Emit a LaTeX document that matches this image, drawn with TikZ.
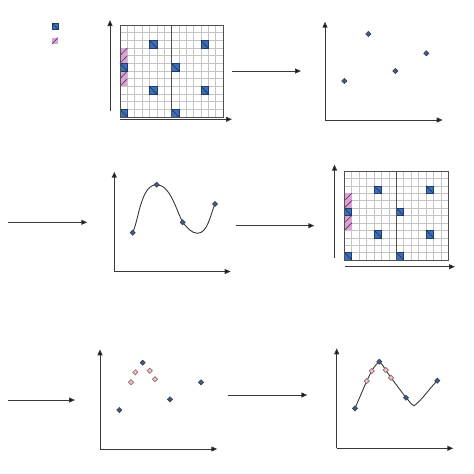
\documentclass[tikz,border=0pt]{standalone}
\usetikzlibrary{arrows.meta,shapes.geometric}
\pgfdeclarelayer{bg}
\pgfsetlayers{bg,main}
\definecolor{axisc}{HTML}{383838}
\definecolor{gridc}{HTML}{C4C4C4}
\definecolor{borderc}{HTML}{505050}
\definecolor{cellblue}{HTML}{3D6FB6}
\definecolor{celledge}{HTML}{1E3C6E}
\definecolor{cellpink}{HTML}{D9A3D3}
\definecolor{hatchc}{HTML}{5A2A5A}
\definecolor{ptblue}{HTML}{44597F}
\definecolor{ptedge}{HTML}{2B3850}
\definecolor{ptpink}{HTML}{E6C3C8}
\definecolor{ptpinkedge}{HTML}{9A6E72}
\tikzset{
  axisline/.style={draw=axisc, line width=1pt, -{Triangle[length=6pt,width=5pt,fill=black]}},
  flowline/.style={draw=axisc, line width=1pt, -{Triangle[length=6pt,width=5pt,fill=black]}},
  bpt/.style={diamond, fill=ptblue, draw=ptedge, line width=0.4pt, minimum size=5.5pt, inner sep=0pt},
  ppt/.style={diamond, fill=ptpink, draw=ptpinkedge, line width=0.7pt, minimum size=5.5pt, inner sep=0pt},
  curveline/.style={draw=axisc, line width=0.9pt},
  gridline/.style={draw=gridc, line width=0.5pt},
  bluecell/.style={fill=cellblue, draw=celledge, line width=0.5pt},
  pinkcell/.style={fill=cellpink},
  celldiag/.style={draw=celledge!80!black, line width=0.6pt},
  hatchline/.style={draw=hatchc, line width=0.6pt},
  gridborder/.style={draw=borderc, line width=1pt},
}
\newcommand\mygridpanel[4]{%
  \begin{scope}[shift={(#1,#2)}, x=#3pt, y=-#4pt]
    \fill[white] (0,0) rectangle (14,12);
    \foreach \i in {1,...,13} \draw[gridline] (\i,0) -- (\i,12);
    \foreach \j in {1,...,11} \draw[gridline] (0,\j) -- (14,\j);
    \fill[pinkcell] (0,3) rectangle (1,5);
    \fill[pinkcell] (0,6) rectangle (1,8);
    \foreach \r in {3,4,6,7} \draw[hatchline] (0,\r+1) -- (1,\r);
    \foreach \c/\r in {4/2,11/2,0/5,7/5,4/8,11/8,0/11,7/11}{
      \draw[bluecell] (\c,\r) rectangle ++(1,1);
      \draw[celldiag] (\c,\r) -- ++(1,1);
    }
    \draw[gridborder] (0,0) rectangle (14,12);
    \draw[gridborder, line width=0.9pt] (7,0) -- (7,12);
  \end{scope}}
\begin{document}
\begin{tikzpicture}[x=1pt,y=-1pt]
\begin{pgfonlayer}{bg}
\fill[white] (0,0) rectangle (474,474);
\end{pgfonlayer}
\useasboundingbox (0,0) rectangle (474,474);

% legend
\draw[bluecell] (52,23) rectangle (58,29);
\draw[celldiag] (52,23) -- (58,29);
\fill[pinkcell] (52,37.5) rectangle (58,44);
\draw[hatchline] (52,44) -- (58,37.5);

% panel 1
\mygridpanel{120}{25}{7.357}{7.667}
\coordinate (p1yb) at (110,111);
\coordinate (p1yt) at (110,20);
\coordinate (p1xl) at (120,119.3);
\coordinate (p1xr) at (232,119.3);
\draw[axisline] (p1yb) -- (p1yt);
\draw[axisline] (p1xl) -- (p1xr);

% arrow 1 -> 2
\coordinate (f1s) at (232.3,71);
\coordinate (f1e) at (301,71);
\draw[flowline] (f1s) -- (f1e);

% panel 2
\coordinate (p2o) at (325,120);
\coordinate (p2yt) at (325,21.7);
\coordinate (p2xr) at (442.7,120);
\draw[axisline] (p2o) -- (p2yt);
\draw[axisline] (p2o) -- (p2xr);
\node[bpt] (q1) at (344.3,81) {};
\node[bpt] (q2) at (368.3,34) {};
\node[bpt] (q3) at (395.3,71) {};
\node[bpt] (q4) at (426.3,53.3) {};

% arrow into panel 3
\coordinate (f2s) at (8.3,222.3);
\coordinate (f2e) at (87.3,222.3);
\draw[flowline] (f2s) -- (f2e);

% panel 3
\coordinate (p3o) at (114.3,271.5);
\coordinate (p3yt) at (114.3,171.7);
\coordinate (p3xr) at (230.7,271.5);
\draw[axisline] (p3o) -- (p3yt);
\draw[axisline] (p3o) -- (p3xr);
\node[bpt] (c1) at (132.7,232.7) {};
\node[bpt] (c2) at (156.7,184.7) {};
\node[bpt] (c3) at (182.7,222.3) {};
\node[bpt] (c4) at (215,204) {};
\coordinate (cmin) at (197.3,233.3);
\begin{pgfonlayer}{bg}
\draw[curveline] (c1.center) to[out=66,in=180,looseness=0.75] (c2.center)
  to[out=0,in=118,looseness=0.75] (c3.center) to[out=-52,in=180,looseness=0.8] (cmin)
  to[out=0,in=-115,looseness=0.8] (c4.center);
\end{pgfonlayer}

% arrow 3 -> 4
\coordinate (f3s) at (236,225.7);
\coordinate (f3e) at (314.3,225.7);
\draw[flowline] (f3s) -- (f3e);

% panel 4
\mygridpanel{344.3}{171}{7.43}{7.417}
\coordinate (p4yb) at (334.5,258);
\coordinate (p4yt) at (334.5,164.5);
\coordinate (p4xl) at (345,266.7);
\coordinate (p4xr) at (455,266.7);
\draw[axisline] (p4yb) -- (p4yt);
\draw[axisline] (p4xl) -- (p4xr);

% arrow into panel 5
\coordinate (f4s) at (8.3,400);
\coordinate (f4e) at (75,400);
\draw[flowline] (f4s) -- (f4e);

% panel 5
\coordinate (p5o) at (100,449);
\coordinate (p5yt) at (100,349.3);
\coordinate (p5xr) at (217.3,449);
\draw[axisline] (p5o) -- (p5yt);
\draw[axisline] (p5o) -- (p5xr);
\node[bpt] (s1) at (119.3,410) {};
\node[bpt] (s2) at (142.7,362.7) {};
\node[bpt] (s3) at (170,399.3) {};
\node[bpt] (s4) at (201,382.3) {};
\node[ppt] (s5) at (131,382.3) {};
\node[ppt] (s6) at (135.3,372.3) {};
\node[ppt] (s7) at (149.7,370.7) {};
\node[ppt] (s8) at (155,379.3) {};

% arrow 5 -> 6
\coordinate (f5s) at (228.3,395);
\coordinate (f5e) at (307.3,395);
\draw[flowline] (f5s) -- (f5e);

% panel 6
\coordinate (p6o) at (336.7,448.3);
\coordinate (p6yt) at (336.7,348.3);
\coordinate (p6xr) at (453.3,448.3);
\draw[axisline] (p6o) -- (p6yt);
\draw[axisline] (p6o) -- (p6xr);
\node[bpt] (t1) at (355,408.3) {};
\node[ppt] (t2) at (366.7,381) {};
\node[ppt] (t3) at (371.7,371) {};
\node[bpt] (t4) at (379.3,361.7) {};
\node[ppt] (t5) at (385.7,370) {};
\node[ppt] (t6) at (391,377.7) {};
\node[bpt] (t7) at (406,397.7) {};
\node[bpt] (t8) at (437.3,380.7) {};
\coordinate (tmin) at (414.3,405.7);
\begin{pgfonlayer}{bg}
\draw[curveline] (t1.center) -- (t2.center) -- (t3.center)
  to[out=60,in=-140] (t4.center) to[out=-40,in=125] (t5.center)
  -- (t6.center) -- (t7.center) to[out=-40,in=160] (tmin)
  to[out=40,in=-135] (t8.center);
\end{pgfonlayer}
\end{tikzpicture}
\end{document}
